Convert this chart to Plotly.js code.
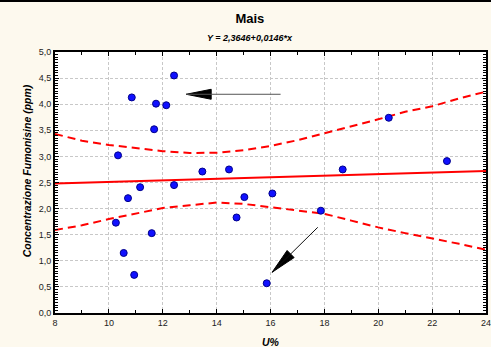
<!DOCTYPE html>
<html><head><meta charset="utf-8">
<script src="https://cdn.plot.ly/plotly-3.0.1.min.js"></script>
<style>
html,body{margin:0;padding:0;background:#fdf9ee;}
#chart{width:491px;height:347px;}
#topline{position:absolute;left:0;top:0;width:491px;height:2px;background:#000;}
</style>
</head><body>
<div id="chart"></div><div id="topline"></div>
<script>
// Observations: humidity U% vs fumonisin concentration (ppm)
const humidity  = [12.42, 10.85, 11.75, 12.13, 11.68, 10.34, 13.47, 11.16, 12.42, 10.71, 10.26, 11.59, 10.55, 10.94, 14.46, 18.68, 15.03, 16.07, 14.74, 17.87, 15.86, 20.39, 22.55];
const fumonisin = [4.55, 4.13, 4.01, 3.98, 3.52, 3.02, 2.71, 2.41, 2.45, 2.20, 1.73, 1.53, 1.15, 0.73, 2.75, 2.75, 2.22, 2.29, 1.83, 1.96, 0.57, 3.74, 2.91];

// Regression line (Y = 2,3646+0,0146*x) endpoints
const fitX = [8, 24];
const fitY = [2.48, 2.72];

// 95% confidence band
const bandX     = [8, 9, 10, 11, 12, 13, 14, 15, 16, 17, 18, 19, 20, 21, 22, 23, 24];
const upperBand = [3.43, 3.30, 3.22, 3.155, 3.10, 3.065, 3.07, 3.12, 3.20, 3.31, 3.44, 3.57, 3.71, 3.855, 3.96, 4.11, 4.24];
const lowerBand = [1.59, 1.68, 1.80, 1.91, 2.01, 2.065, 2.115, 2.09, 2.03, 1.96, 1.90, 1.77, 1.64, 1.53, 1.43, 1.325, 1.21];

// Arrows (tip and tail in data units)
const arrowTipX  = [12.87, 16.06];
const arrowTipY  = [4.19, 0.78];
const arrowTailX = [16.43, 17.81];
const arrowTailY = [4.19, 1.67];

const titleText = 'Mais';
const subtitleText = 'Y = 2,3646+0,0146*x';
const xTitle = 'U%';
const yTitle = 'Concentrazione Fumonisine (ppm)';

const FONT = 'Arial, "Liberation Sans", sans-serif';
const red = '#ff0000';

const traces = [
  {x: bandX, y: upperBand, type: 'scatter', mode: 'lines', line: {color: red, width: 2, dash: '8px,5px'}, hoverinfo: 'skip'},
  {x: bandX, y: lowerBand, type: 'scatter', mode: 'lines', line: {color: red, width: 2, dash: '8px,5px'}, hoverinfo: 'skip'},
  {x: fitX, y: fitY, type: 'scatter', mode: 'lines', line: {color: red, width: 2}},
  {x: humidity, y: fumonisin, type: 'scatter', mode: 'markers',
   marker: {color: '#1010ff', size: 7, line: {color: '#00008b', width: 1}}}
];

const headPaths = [
  'M0,0 L25,5 L25,-5 Z',
  'M0,0 L22,14.7 L15,21.8 Z'
];

const annotations = [
  {xref: 'paper', yref: 'paper', x: 0.452, y: 1.055, xanchor: 'center', yanchor: 'middle',
   text: '<b><i>' + subtitleText + '</i></b>', showarrow: false, font: {family: FONT, size: 9, color: '#000'}},
  {xref: 'paper', yref: 'paper', x: -0.066, y: 0.545, xanchor: 'center', yanchor: 'middle', textangle: -90,
   text: '<b><i>' + yTitle + '</i></b>', showarrow: false, font: {family: FONT, size: 10.5, color: '#000'}},
  {xref: 'paper', yref: 'paper', x: 0.5, y: -0.082, xanchor: 'center', yanchor: 'top',
   text: '<b><i>' + xTitle + '</i></b>', showarrow: false, font: {family: FONT, size: 10.5, color: '#000'}}
];
const shapes = [];
for (let i = 0; i < arrowTipX.length; i++) {
  annotations.push({x: arrowTipX[i], y: arrowTipY[i], ax: arrowTailX[i], ay: arrowTailY[i],
    xref: 'x', yref: 'y', axref: 'x', ayref: 'y', text: '', showarrow: true,
    arrowhead: 0, arrowwidth: 1, arrowcolor: i === 0 ? '#555' : '#111'});
  shapes.push({type: 'path', xref: 'x', yref: 'y', xsizemode: 'pixel', ysizemode: 'pixel',
    xanchor: arrowTipX[i], yanchor: arrowTipY[i], path: headPaths[i],
    fillcolor: '#000', line: {color: '#000', width: 1}});
}

const layout = {
  width: 491, height: 347,
  margin: {l: 55, r: 5, t: 52, b: 34},
  paper_bgcolor: '#fdf9ee',
  plot_bgcolor: '#ffffff',
  showlegend: false,
  separators: ',.',
  title: {text: '<b>' + titleText + '</b>', x: 0.509, xanchor: 'center', y: 0.948, yanchor: 'middle',
          font: {family: FONT, size: 13, color: '#000'}},
  xaxis: {range: [8, 24], dtick: 2, tick0: 8, ticks: 'inside', ticklen: 4, tickwidth: 1, tickcolor: '#000',
          showline: true, linecolor: '#000', linewidth: 2, mirror: 'ticks', zeroline: false,
          showgrid: true, gridcolor: '#c8c8c8', griddash: '3px,2px', gridwidth: 1,
          minor: {dtick: 1, ticks: 'inside', ticklen: 3, tickcolor: '#000', showgrid: false},
          ticklabeloverflow: 'allow',
          tickfont: {family: FONT, size: 9, color: '#222'}, fixedrange: true},
  yaxis: {range: [0, 5], dtick: 0.5, tick0: 0, tickformat: '.1f', ticks: 'inside', ticklen: 4, tickwidth: 1, tickcolor: '#000',
          showline: true, linecolor: '#000', linewidth: 2, mirror: 'ticks', zeroline: false,
          showgrid: true, gridcolor: '#c8c8c8', griddash: '3px,2px', gridwidth: 1,
          minor: {dtick: 0.05, ticks: 'inside', ticklen: 3, tickcolor: '#000', showgrid: false},
          tickfont: {family: FONT, size: 9, color: '#222'}, fixedrange: true},
  annotations: annotations,
  shapes: shapes
};

Plotly.newPlot('chart', traces, layout, {displayModeBar: false, staticPlot: true});
</script>
</body></html>
